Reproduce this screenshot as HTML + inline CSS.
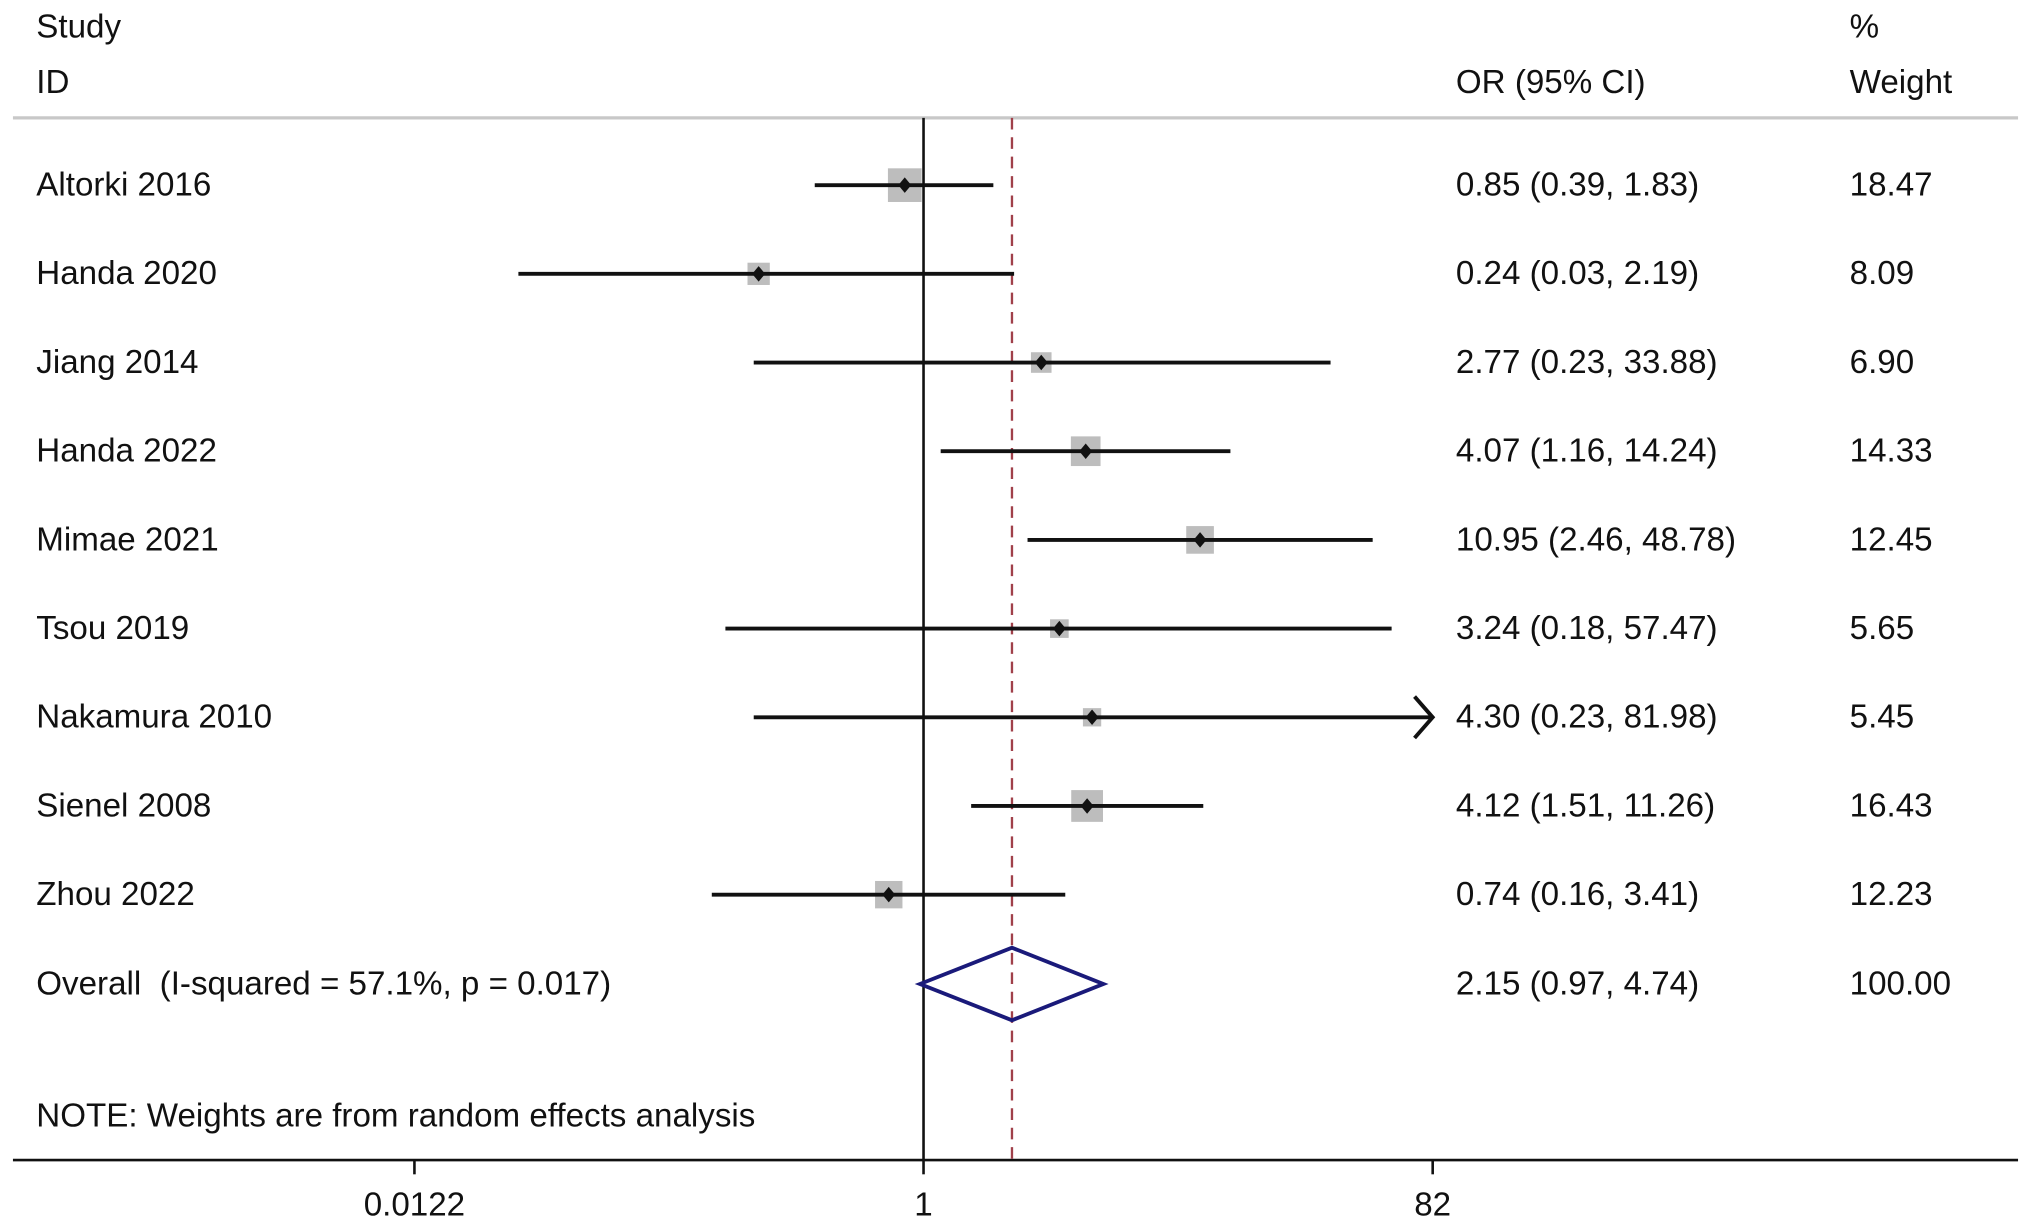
<!DOCTYPE html>
<html><head><meta charset="utf-8"><style>
html,body{margin:0;padding:0;background:#fff}
svg{display:block}
text{font-family:"Liberation Sans",sans-serif;font-size:25.6px;fill:#111;white-space:pre}
</style></head><body>
<svg id="chart" width="2031" height="1230" viewBox="0 0 1568 950" preserveAspectRatio="none" xmlns="http://www.w3.org/2000/svg" xml:space="preserve">
<g id="static">
<text x="28" y="29">Study</text>
<text x="28" y="72">ID</text>
<text x="1124" y="72">OR (95% CI)</text>
<text x="1428" y="29">%</text>
<text x="1428" y="72">Weight</text>
<line x1="10" x2="1558" y1="91" y2="91" stroke="#c8c8c8" stroke-width="2.5"/>
<line x1="10" x2="1558" y1="896" y2="896" stroke="#111" stroke-width="2"/>
<text x="28" y="870">NOTE: Weights are from random effects analysis</text>
</g>
</svg>
<script>
const studies=["Altorki 2016","Handa 2020","Jiang 2014","Handa 2022","Mimae 2021","Tsou 2019","Nakamura 2010","Sienel 2008","Zhou 2022"];
const orVals=[0.85,0.24,2.77,4.07,10.95,3.24,4.30,4.12,0.74];
const lowVals=[0.39,0.03,0.23,1.16,2.46,0.18,0.23,1.51,0.16];
const highVals=[1.83,2.19,33.88,14.24,48.78,57.47,81.98,11.26,3.41];
const weights=[18.47,8.09,6.90,14.33,12.45,5.65,5.45,16.43,12.23];
const overallLabel="Overall  (I-squared = 57.1%, p = 0.017)";
const overall=[2.15,0.97,4.74];
const overallWeight="100.00";
const tickVals=[0.0122,1,82];
const tickLabels=["0.0122","1","82"];

const NS="http://www.w3.org/2000/svg";
const svg=document.getElementById('chart');
const x0=713, pxPerLn=89.2, xMax=82;
function xs(v){return x0+Math.log(v)*pxPerLn;}
function ys(i){return 143+i*68.5;}
function mk(tag,attrs,txt){const e=document.createElementNS(NS,tag);for(const k in attrs)e.setAttribute(k,attrs[k]);if(txt!==undefined)e.textContent=txt;svg.appendChild(e);return e;}
function f2(v){return v.toFixed(2);}

let e;
e=mk('line',{x1:x0,x2:x0,y1:91,y2:896,stroke:'#111','stroke-width':2});


e=mk('line',{x1:xs(overall[0]),x2:xs(overall[0]),y1:91,y2:896,stroke:'#a0404a','stroke-width':1.8,'stroke-dasharray':'9,6'});



tickVals.forEach((v,i)=>{
  e=mk('line',{x1:xs(v),x2:xs(v),y1:896,y2:907,stroke:'#111','stroke-width':2});
  
  
  e=mk('text',{x:xs(v),y:939,'text-anchor':'middle'},tickLabels[i]);
  
  
});

studies.forEach((s,i)=>{
  const y=ys(i);
  e=mk('text',{x:28,y:y+8},s);
  
  
  const side=6.05*Math.sqrt(weights[i]);
  e=mk('rect',{x:xs(orVals[i])-side/2,y:y-side/2,width:side,height:side,fill:'#bdbdbd'});
  
  
  const hi=Math.min(highVals[i],xMax);
  e=mk('line',{x1:xs(lowVals[i]),x2:xs(hi),y1:y,y2:y,stroke:'#111','stroke-width':3});
  
  
  if(highVals[i]>=xMax*0.99){
    const ax=xs(xMax);
    e=mk('polyline',{points:`${ax-14},${y-16} ${ax},${y} ${ax-14},${y+16}`,fill:'none',stroke:'#111','stroke-width':3});
    
    
  }
  const cx=xs(orVals[i]);
  e=mk('polygon',{points:`${cx},${y-6} ${cx+5},${y} ${cx},${y+6} ${cx-5},${y}`,fill:'#111'});
  
  
  e=mk('text',{x:1124,y:y+8},`${f2(orVals[i])} (${f2(lowVals[i])}, ${f2(highVals[i])})`);
  
  
  e=mk('text',{x:1428,y:y+8},f2(weights[i]));
  
  
});

const oy=760;
e=mk('text',{x:28,y:oy+8},overallLabel);


e=mk('polygon',{points:`${xs(overall[1])},${oy} ${xs(overall[0])},${oy-28} ${xs(overall[2])},${oy} ${xs(overall[0])},${oy+28}`,fill:'none',stroke:'#1a1a7a','stroke-width':3});


e=mk('text',{x:1124,y:oy+8},`${f2(overall[0])} (${f2(overall[1])}, ${f2(overall[2])})`);


e=mk('text',{x:1428,y:oy+8},overallWeight);


</script>
</body></html>
